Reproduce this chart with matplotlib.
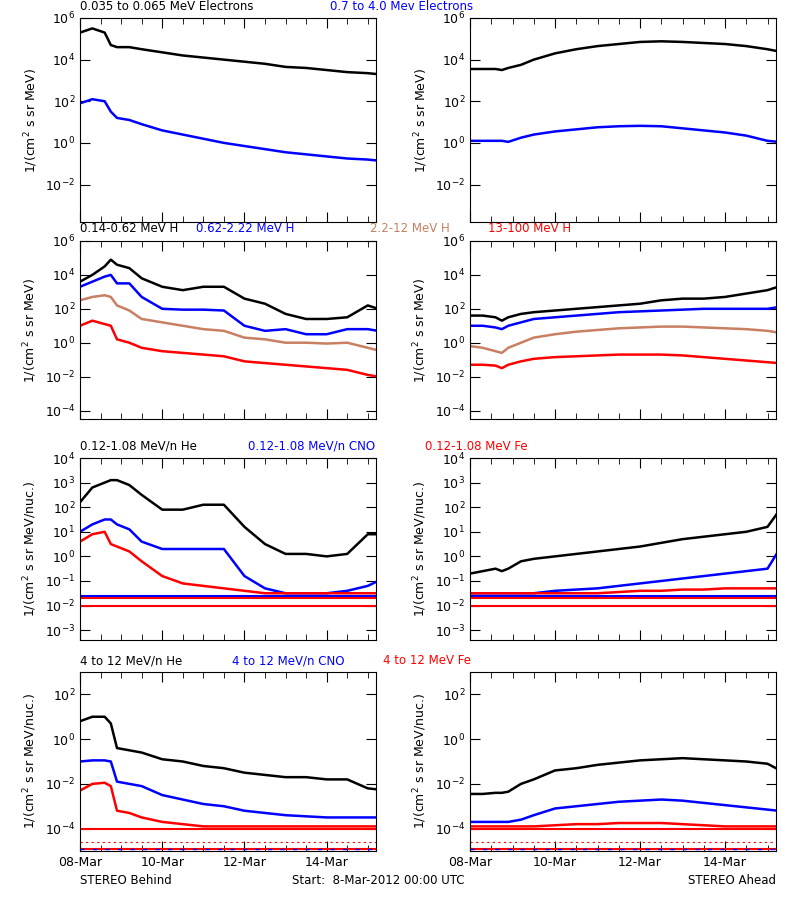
import numpy as np
import matplotlib
matplotlib.use("Agg")
import matplotlib.pyplot as plt
from matplotlib.ticker import FixedLocator, MultipleLocator, NullFormatter

# time nodes (days since 08-Mar-2012 00:00)
t = [0, 0.3, 0.6, 0.75, 0.9, 1.2, 1.5, 2, 2.5, 3, 3.5, 4, 4.5, 5, 5.5, 6, 6.5, 7, 7.25]
date_ticks = [0, 2, 4, 6]
date_labels = ["08-Mar", "10-Mar", "12-Mar", "14-Mar"]

# log10 flux values
# Row 1: electrons
eB_lo = [5.3, 5.5, 5.3, 4.7, 4.6, 4.6, 4.5, 4.35, 4.2, 4.1, 4.0, 3.9, 3.8, 3.65, 3.6, 3.5, 3.4, 3.35, 3.3]
eB_hi = [1.9, 2.1, 2.0, 1.5, 1.2, 1.1, 0.9, 0.6, 0.4, 0.2, 0.0, -0.15, -0.3, -0.45, -0.55, -0.65, -0.75, -0.8, -0.85]
eA_lo = [3.55, 3.55, 3.55, 3.5, 3.6, 3.75, 4.0, 4.3, 4.5, 4.65, 4.75, 4.85, 4.88, 4.85, 4.8, 4.75, 4.65, 4.5, 4.4]
eA_hi = [0.1, 0.1, 0.1, 0.1, 0.05, 0.25, 0.4, 0.55, 0.65, 0.75, 0.8, 0.82, 0.8, 0.7, 0.6, 0.5, 0.35, 0.1, 0.05]
# Row 2: protons
hB_1 = [3.6, 4.0, 4.5, 4.9, 4.6, 4.4, 3.8, 3.3, 3.1, 3.3, 3.3, 2.6, 2.3, 1.7, 1.4, 1.4, 1.5, 2.2, 2.0]
hB_2 = [3.3, 3.6, 3.9, 4.0, 3.5, 3.5, 2.7, 2.0, 1.95, 1.95, 1.9, 1.0, 0.7, 0.8, 0.5, 0.5, 0.8, 0.8, 0.7]
hB_3 = [2.5, 2.7, 2.8, 2.7, 2.2, 1.9, 1.4, 1.2, 1.0, 0.8, 0.7, 0.3, 0.2, 0.0, 0.0, -0.05, 0.0, -0.3, -0.45]
hB_4 = [1.0, 1.3, 1.1, 1.0, 0.2, 0.0, -0.3, -0.5, -0.6, -0.7, -0.8, -1.1, -1.2, -1.3, -1.4, -1.5, -1.6, -1.9, -2.0]
hA_1 = [1.6, 1.6, 1.5, 1.3, 1.5, 1.7, 1.8, 1.9, 2.0, 2.1, 2.2, 2.3, 2.5, 2.6, 2.6, 2.7, 2.9, 3.1, 3.3]
hA_2 = [1.0, 1.0, 0.9, 0.8, 1.0, 1.2, 1.4, 1.5, 1.6, 1.7, 1.8, 1.85, 1.9, 1.95, 2.0, 2.0, 2.0, 2.0, 2.1]
hA_3 = [-0.2, -0.3, -0.5, -0.6, -0.3, 0.0, 0.3, 0.5, 0.65, 0.75, 0.85, 0.9, 0.95, 0.95, 0.9, 0.85, 0.8, 0.7, 0.6]
hA_4 = [-1.3, -1.3, -1.35, -1.5, -1.3, -1.1, -0.95, -0.85, -0.8, -0.75, -0.7, -0.7, -0.7, -0.75, -0.85, -0.95, -1.05, -1.15, -1.2]
# Row 3: low-energy ions
iB_he = [2.2, 2.8, 3.0, 3.1, 3.1, 2.9, 2.5, 1.9, 1.9, 2.1, 2.1, 1.2, 0.5, 0.1, 0.1, 0.0, 0.1, 0.9, 0.9]
iB_cno = [1.0, 1.3, 1.5, 1.5, 1.3, 1.1, 0.6, 0.3, 0.3, 0.3, 0.3, -0.8, -1.3, -1.5, -1.5, -1.5, -1.4, -1.2, -1.0]
iB_fe = [0.6, 0.9, 1.0, 0.5, 0.4, 0.2, -0.2, -0.8, -1.1, -1.2, -1.3, -1.4, -1.5, -1.5, -1.5, -1.5, -1.5, -1.5, -1.5]
iA_he = [-0.7, -0.6, -0.5, -0.6, -0.5, -0.2, -0.1, 0.0, 0.1, 0.2, 0.3, 0.4, 0.55, 0.7, 0.8, 0.9, 1.0, 1.2, 1.8]
iA_cno = [-1.5, -1.5, -1.5, -1.5, -1.5, -1.5, -1.5, -1.4, -1.35, -1.3, -1.2, -1.1, -1.0, -0.9, -0.8, -0.7, -0.6, -0.5, 0.2]
iA_fe = [-1.5, -1.5, -1.5, -1.5, -1.5, -1.5, -1.5, -1.5, -1.5, -1.5, -1.45, -1.4, -1.4, -1.35, -1.35, -1.3, -1.3, -1.3, -1.3]
i_floor_cno = -1.6
i_floor_fe = [-1.7, -2.0]
# Row 4: high-energy ions
jB_he = [0.8, 1.0, 1.0, 0.7, -0.4, -0.5, -0.6, -0.9, -1.0, -1.2, -1.3, -1.5, -1.6, -1.7, -1.7, -1.8, -1.8, -2.2, -2.25]
jB_cno = [-1.0, -0.95, -0.95, -1.0, -1.9, -2.0, -2.1, -2.5, -2.7, -2.9, -3.0, -3.2, -3.3, -3.4, -3.45, -3.5, -3.5, -3.5, -3.5]
jB_fe = [-2.3, -2.0, -1.95, -2.1, -3.2, -3.3, -3.5, -3.7, -3.8, -3.9, -3.9, -3.9, -3.9, -3.9, -3.9, -3.9, -3.9, -3.9, -3.9]
jA_he = [-2.45, -2.45, -2.4, -2.4, -2.35, -2.0, -1.8, -1.4, -1.3, -1.15, -1.05, -0.95, -0.9, -0.85, -0.9, -0.95, -1.0, -1.1, -1.35]
jA_cno = [-3.7, -3.7, -3.7, -3.7, -3.7, -3.6, -3.4, -3.1, -3.0, -2.9, -2.8, -2.75, -2.7, -2.75, -2.85, -2.95, -3.05, -3.15, -3.2]
jA_fe = [-3.9, -3.9, -3.9, -3.9, -3.9, -3.9, -3.9, -3.85, -3.8, -3.8, -3.75, -3.75, -3.75, -3.8, -3.85, -3.9, -3.9, -3.9, -3.9]
j_floor = [-4.0, -4.6, -4.9]

BROWN = "#c87f62"
W, H = 800, 900
fig = plt.figure(figsize=(8, 9), dpi=100)
plt.rcParams['font.family'] = ['DejaVu Sans']

def make_ax(x0, x1, ytop, ybot):
    return fig.add_axes([x0 / W, 1 - ybot / H, (x1 - x0) / W, (ybot - ytop) / H])

rows = [(18, 222, -3.8, 6.0, [6, 4, 2, 0, -2], "1/(cm$^2$ s sr MeV)"),
        (241, 419, -4.5, 6.0, [6, 4, 2, 0, -2, -4], "1/(cm$^2$ s sr MeV)"),
        (458, 640, -3.4, 4.0, [4, 3, 2, 1, 0, -1, -2, -3], "1/(cm$^2$ s sr MeV/nuc.)"),
        (672, 851, -5.0, 3.0, [2, 0, -2, -4], "1/(cm$^2$ s sr MeV/nuc.)")]

data = [
    ([(eB_lo, "k"), (eB_hi, "b")], [(eA_lo, "k"), (eA_hi, "b")]),
    ([(hB_1, "k"), (hB_2, "b"), (hB_3, BROWN), (hB_4, "r")], [(hA_1, "k"), (hA_2, "b"), (hA_3, BROWN), (hA_4, "r")]),
    ([(iB_he, "k"), (iB_cno, "b"), (iB_fe, "r")], [(iA_he, "k"), (iA_cno, "b"), (iA_fe, "r")]),
    ([(jB_he, "k"), (jB_cno, "b"), (jB_fe, "r")], [(jA_he, "k"), (jA_cno, "b"), (jA_fe, "r")]),
]

t_arr = np.array(t)
for r, (ytop, ybot, ylo, yhi, ticks, ylab) in enumerate(rows):
    for c, (x0, x1) in enumerate([(80, 376), (470, 776)]):
        ax = make_ax(x0, x1, ytop, ybot)
        for vals, col in data[r][c]:
            ax.plot(t_arr, 10 ** np.array(vals), color=col, lw=1.8)
        if r == 2:
            ax.axhline(10 ** i_floor_cno, color="b", lw=1.5)
            for f in i_floor_fe:
                ax.axhline(10 ** f, color="r", lw=1.5)
        if r == 3:
            ax.axhline(10 ** j_floor[0], color="r", lw=1.5)
            ax.axhline(10 ** j_floor[1], color="r", lw=0.8, ls=(0, (2, 3)))
            ax.axhline(10 ** j_floor[2], color="r", lw=1.5)
            ax.axhline(10 ** j_floor[2], color="b", lw=1.0, ls=(0, (3, 6)))
        ax.set_yscale("log")
        ax.set_ylim(10 ** ylo, 10 ** yhi)
        ax.set_xlim(0, 7.2)
        ax.yaxis.set_major_locator(FixedLocator([10.0 ** k for k in ticks]))
        ax.yaxis.set_minor_locator(FixedLocator([]))
        ax.set_yticklabels(["10$^{%d}$" % k for k in ticks])
        ax.xaxis.set_major_locator(FixedLocator(date_ticks))
        ax.xaxis.set_minor_locator(MultipleLocator(0.5))
        if r == 3:
            ax.set_xticklabels(date_labels)
        else:
            ax.xaxis.set_major_formatter(NullFormatter())
        ax.tick_params(which="both", direction="in", top=True, right=True, labelsize=9, length=7)
        ax.tick_params(which="minor", length=4)
        ax.set_ylabel(ylab, fontsize=9)
        for s in ax.spines.values():
            s.set_linewidth(0.8)

def ftxt(x, y, s, col="k", ha="left"):
    fig.text(x / W, 1 - y / H, s, color=col, fontsize=8.5, ha=ha, va="center")

ftxt(80, 6, "0.035 to 0.065 MeV Electrons")
ftxt(330, 6, "0.7 to 4.0 Mev Electrons", "b")
ftxt(80, 229, "0.14-0.62 MeV H")
ftxt(196, 229, "0.62-2.22 MeV H", "b")
ftxt(370, 229, "2.2-12 MeV H", BROWN)
ftxt(488, 229, "13-100 MeV H", "r")
ftxt(80, 446, "0.12-1.08 MeV/n He")
ftxt(248, 446, "0.12-1.08 MeV/n CNO", "b")
ftxt(425, 446, "0.12-1.08 MeV Fe", "r")
ftxt(80, 661, "4 to 12 MeV/n He")
ftxt(232, 661, "4 to 12 MeV/n CNO", "b")
ftxt(383, 661, "4 to 12 MeV Fe", "r")
ftxt(80, 881, "STEREO Behind")
ftxt(292, 881, "Start:  8-Mar-2012 00:00 UTC")
ftxt(776, 881, "STEREO Ahead", ha="right")

fig.savefig("out.png", dpi=100)
